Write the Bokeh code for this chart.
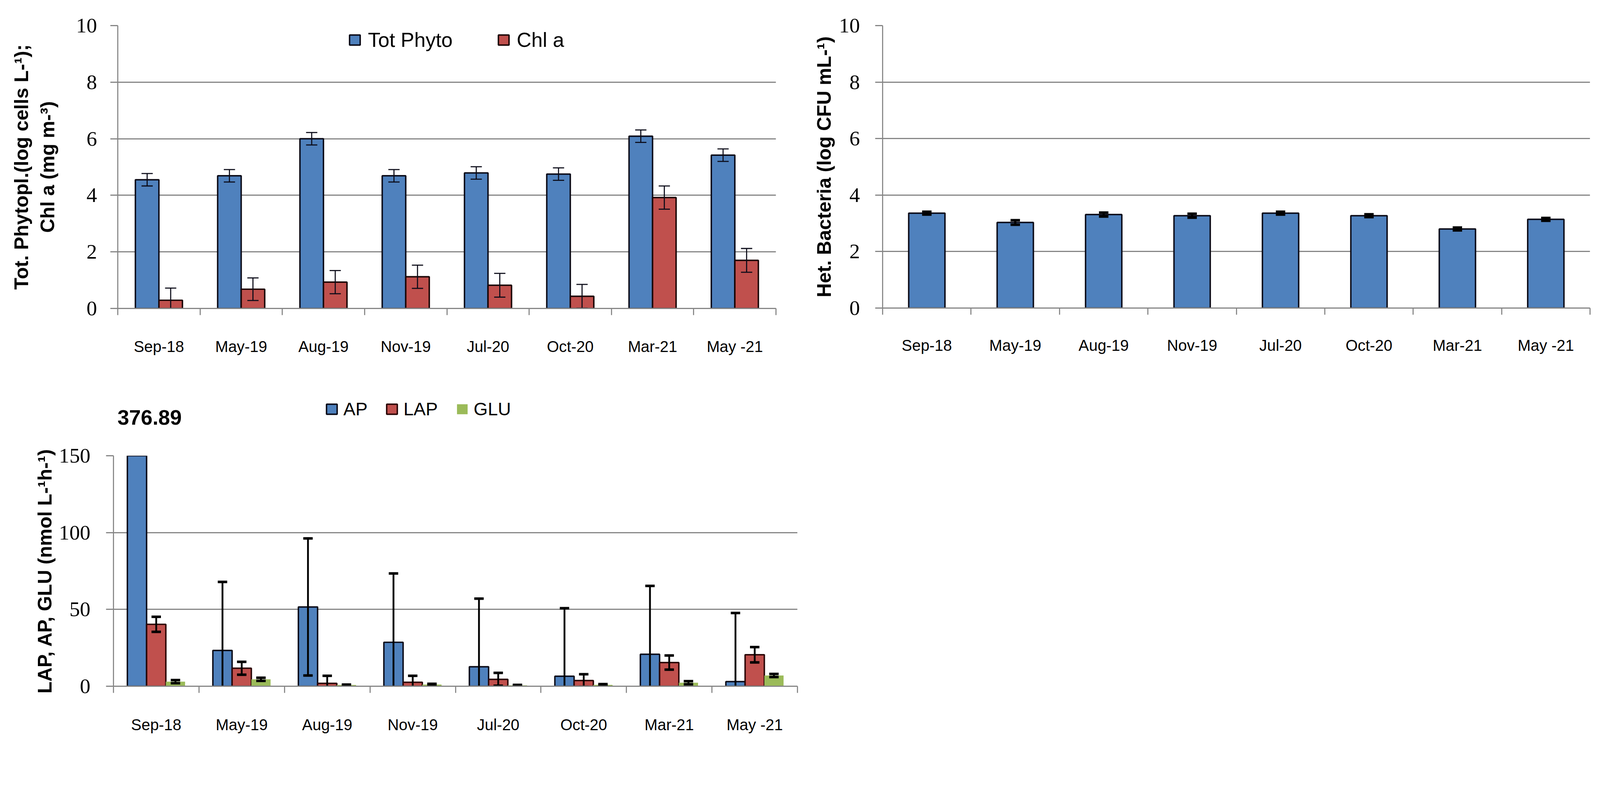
import numpy as np
from bokeh.plotting import figure
from bokeh.models import Range1d, FixedTicker, Legend, LegendItem, Label
from bokeh.layouts import column, row
from bokeh.embed import file_html
from bokeh.resources import INLINE

# ---------------- data ----------------
categories = ["Sep-18", "May-19", "Aug-19", "Nov-19", "Jul-20", "Oct-20", "Mar-21", "May -21"]

tot_phyto = [4.55, 4.69, 6.00, 4.69, 4.79, 4.75, 6.09, 5.42]
tot_phyto_err = [0.22, 0.22, 0.22, 0.22, 0.22, 0.22, 0.22, 0.22]
chl_a = [0.29, 0.68, 0.93, 1.12, 0.82, 0.43, 3.92, 1.70]
chl_a_err = [0.43, 0.40, 0.41, 0.41, 0.42, 0.42, 0.41, 0.42]

het_bact = [3.36, 3.03, 3.31, 3.27, 3.36, 3.27, 2.80, 3.14]
het_bact_err = [0.05, 0.08, 0.07, 0.07, 0.05, 0.05, 0.05, 0.05]

ap = [376.89, 23.3, 51.6, 28.6, 12.7, 6.5, 20.8, 3.0]
ap_err = [float("nan"), 44.6, 44.6, 44.8, 44.3, 44.3, 44.5, 44.7]
lap = [40.3, 11.7, 1.9, 2.6, 4.5, 3.7, 15.4, 20.5]
lap_err = [4.9, 4.2, 4.9, 4.2, 4.2, 4.1, 4.6, 5.0]
glu = [3.0, 4.5, 0.8, 1.1, 0.6, 0.9, 2.3, 7.0]
glu_err = [1.0, 1.0, 0.3, 0.5, 0.3, 0.5, 1.0, 1.0]

y1_ticks = [0, 2, 4, 6, 8, 10]
y3_ticks = [0, 50, 100, 150]

# ---------------- style ----------------
S = 0.928


def sc(v):
    return int(round(v * S))


def fs(v):
    return f"{v * S:.1f}px"


BLUE = "#4F81BD"
RED = "#C0504D"
GREEN = "#9BBB59"
GRAY = "#868686"
DARK = "#0b0b18"
SANS = "Liberation Sans"
SERIF = "Liberation Serif"

n = len(categories)
centers = np.arange(n) + 0.5
bounds = np.arange(n + 1)


def make_fig(bl, fw, br, bt, fh, bb, ymax, yticks, ylabel,
             x_standoff, y_standoff, label_standoff):
    bl, fw, br, bt, fh, bb = sc(bl), sc(fw), sc(br), sc(bt), sc(fh), sc(bb)
    p = figure(width=bl + fw + br, height=bt + fh + bb,
               x_range=Range1d(0, n), y_range=Range1d(0, ymax),
               output_backend="svg", toolbar_location=None,
               min_border_left=bl, min_border_right=br, min_border_top=bt, min_border_bottom=bb)
    p.outline_line_color = None
    p.background_fill_color = "white"
    p.xgrid.visible = False
    p.ygrid.grid_line_color = GRAY
    p.ygrid.grid_line_width = 3 * S
    p.ygrid.ticker = FixedTicker(ticks=yticks)

    xa = p.xaxis[0]
    xa.ticker = FixedTicker(ticks=list(centers), minor_ticks=list(bounds))
    xa.major_label_overrides = {float(c): lab for c, lab in zip(centers, categories)}
    xa.major_tick_out = 0
    xa.major_tick_in = 0
    xa.minor_tick_out = sc(18)
    xa.minor_tick_in = 0
    xa.minor_tick_line_color = GRAY
    xa.minor_tick_line_width = 3 * S
    xa.axis_line_color = GRAY
    xa.axis_line_width = 3 * S
    xa.major_label_text_font = SANS
    xa.major_label_text_font_size = fs(43)
    xa.major_label_text_color = "black"
    xa.major_label_standoff = sc(x_standoff)

    ya = p.yaxis[0]
    ya.ticker = FixedTicker(ticks=yticks)
    ya.major_tick_out = sc(20)
    ya.major_tick_in = 0
    ya.major_tick_line_color = GRAY
    ya.major_tick_line_width = 3 * S
    ya.minor_tick_line_color = None
    ya.axis_line_color = GRAY
    ya.axis_line_width = 3 * S
    ya.major_label_text_font = SERIF
    ya.major_label_text_font_size = fs(58)
    ya.major_label_text_color = "black"
    ya.major_label_standoff = sc(y_standoff)
    ya.axis_label = ylabel
    ya.axis_label_text_font = SANS
    ya.axis_label_text_font_style = "bold"
    ya.axis_label_text_font_size = fs(54)
    ya.axis_label_text_color = "black"
    ya.axis_label_standoff = sc(label_standoff)
    return p


def errbars(p, x, val, err, cap, lw, capw, color):
    x = np.asarray(x, dtype=float)
    v = np.asarray(val, dtype=float)
    e = np.asarray(err, dtype=float)
    m = np.isfinite(e)
    x, v, e = x[m], v[m], e[m]
    p.segment(x0=x, y0=v - e, x1=x, y1=v + e, line_width=lw * S, line_color=color)
    p.scatter(x=x, y=v + e, marker="dash", size=cap * S, line_width=capw * S, line_color=color)
    p.scatter(x=x, y=v - e, marker="dash", size=cap * S, line_width=capw * S, line_color=color)


def style_legend(leg, font_px, spacing, standoff):
    leg.orientation = "horizontal"
    leg.background_fill_alpha = 0
    leg.border_line_alpha = 0
    leg.padding = 0
    leg.margin = 0
    leg.spacing = sc(spacing)
    leg.label_standoff = sc(standoff)
    leg.glyph_width = sc(37)
    leg.glyph_height = sc(35)
    leg.label_height = sc(40)
    leg.label_text_font = SANS
    leg.label_text_font_size = fs(font_px)
    leg.label_text_color = "black"


# ---------------- chart 1 ----------------
p1 = make_fig(324, 1816, 60, 70, 780, 142, 10, y1_ticks,
              "Tot. Phytopl.(log cells L-\u00b9);\nChl a (mg m-\u00b3)",
              x_standoff=62, y_standoff=37, label_standoff=45)
bw1 = 0.286
r_tp = p1.vbar(x=centers - bw1 / 2, width=bw1, top=tot_phyto, bottom=0,
               fill_color=BLUE, line_color=DARK, line_width=4 * S)
r_ch = p1.vbar(x=centers + bw1 / 2, width=bw1, top=chl_a, bottom=0,
               fill_color=RED, line_color="#1a0505", line_width=4 * S)
errbars(p1, centers - bw1 / 2, tot_phyto, tot_phyto_err, 31, 3, 3, DARK)
errbars(p1, centers + bw1 / 2, chl_a, chl_a_err, 31, 3, 3, DARK)
leg1 = Legend(items=[LegendItem(label="Tot Phyto", renderers=[r_tp]),
                     LegendItem(label="Chl a", renderers=[r_ch])],
              location=(sc(636), sc(708)))
style_legend(leg1, 56, 122, 18)
p1.add_layout(leg1)

# ---------------- chart 2 ----------------
p2 = make_fig(234, 1951, 30, 57, 813, 122, 10, y1_ticks,
              "Het. Bacteria (log CFU mL-\u00b9)",
              x_standoff=60, y_standoff=42, label_standoff=8)
bw2 = 0.41
p2.vbar(x=centers, width=bw2, top=het_bact, bottom=0,
        fill_color=BLUE, line_color=DARK, line_width=4 * S)
errbars(p2, centers, het_bact, het_bact_err, 26, 6, 7, "black")

# ---------------- chart 3 (header strip + plot) ----------------
p3 = make_fig(313, 1887, 30, 40, 640, 128, 150, y3_ticks,
              "LAP, AP, GLU (nmol L-\u00b9h-\u00b9)",
              x_standoff=64, y_standoff=43, label_standoff=5)
bw3 = 0.225
p3.vbar(x=centers - bw3, width=bw3, top=ap, bottom=0,
        fill_color=BLUE, line_color=DARK, line_width=4 * S)
p3.vbar(x=centers, width=bw3, top=lap, bottom=0,
        fill_color=RED, line_color="#2a0606", line_width=4 * S)
p3.vbar(x=centers + bw3, width=bw3, top=glu, bottom=0,
        fill_color=GREEN, line_color=None)
errbars(p3, centers - bw3, ap, ap_err, 26, 5, 7, "black")
errbars(p3, centers, lap, lap_err, 26, 5, 7, "black")
errbars(p3, centers + bw3, glu, glu_err, 26, 5, 7, "black")

h3 = figure(width=sc(313) + sc(1887) + sc(30), height=sc(224),
            x_range=Range1d(0, n), y_range=Range1d(0, 1),
            x_axis_type=None, y_axis_type=None,
            output_backend="svg", toolbar_location=None,
            min_border_left=sc(313), min_border_right=sc(30), min_border_top=0, min_border_bottom=0)
h3.outline_line_color = None
h3.grid.visible = False
nan_row = [float("nan")]
k_ap = h3.vbar(x=nan_row, top=nan_row, width=bw3, fill_color=BLUE, line_color=DARK, line_width=4 * S)
k_lap = h3.vbar(x=nan_row, top=nan_row, width=bw3, fill_color=RED, line_color="#2a0606", line_width=4 * S)
k_glu = h3.vbar(x=nan_row, top=nan_row, width=bw3, fill_color=GREEN, line_color=None)
leg3 = Legend(items=[LegendItem(label="AP", renderers=[k_ap]),
                     LegendItem(label="LAP", renderers=[k_lap]),
                     LegendItem(label="GLU", renderers=[k_glu])],
              location=(sc(584), sc(59)))
style_legend(leg3, 50, 48, 14)
h3.add_layout(leg3)

# value of the clipped first AP bar, written above it
h3.add_layout(Label(x=float(centers[0]), y=0.295, x_offset=-sc(18), text=f"{ap[0]:.2f}",
                    text_font=SANS, text_font_style="bold", text_font_size=fs(58),
                    text_align="center", text_baseline="middle", text_color="black"))

layout = column(row(p1, p2), h3, p3)
open("out.html", "w").write(file_html(layout, INLINE))
